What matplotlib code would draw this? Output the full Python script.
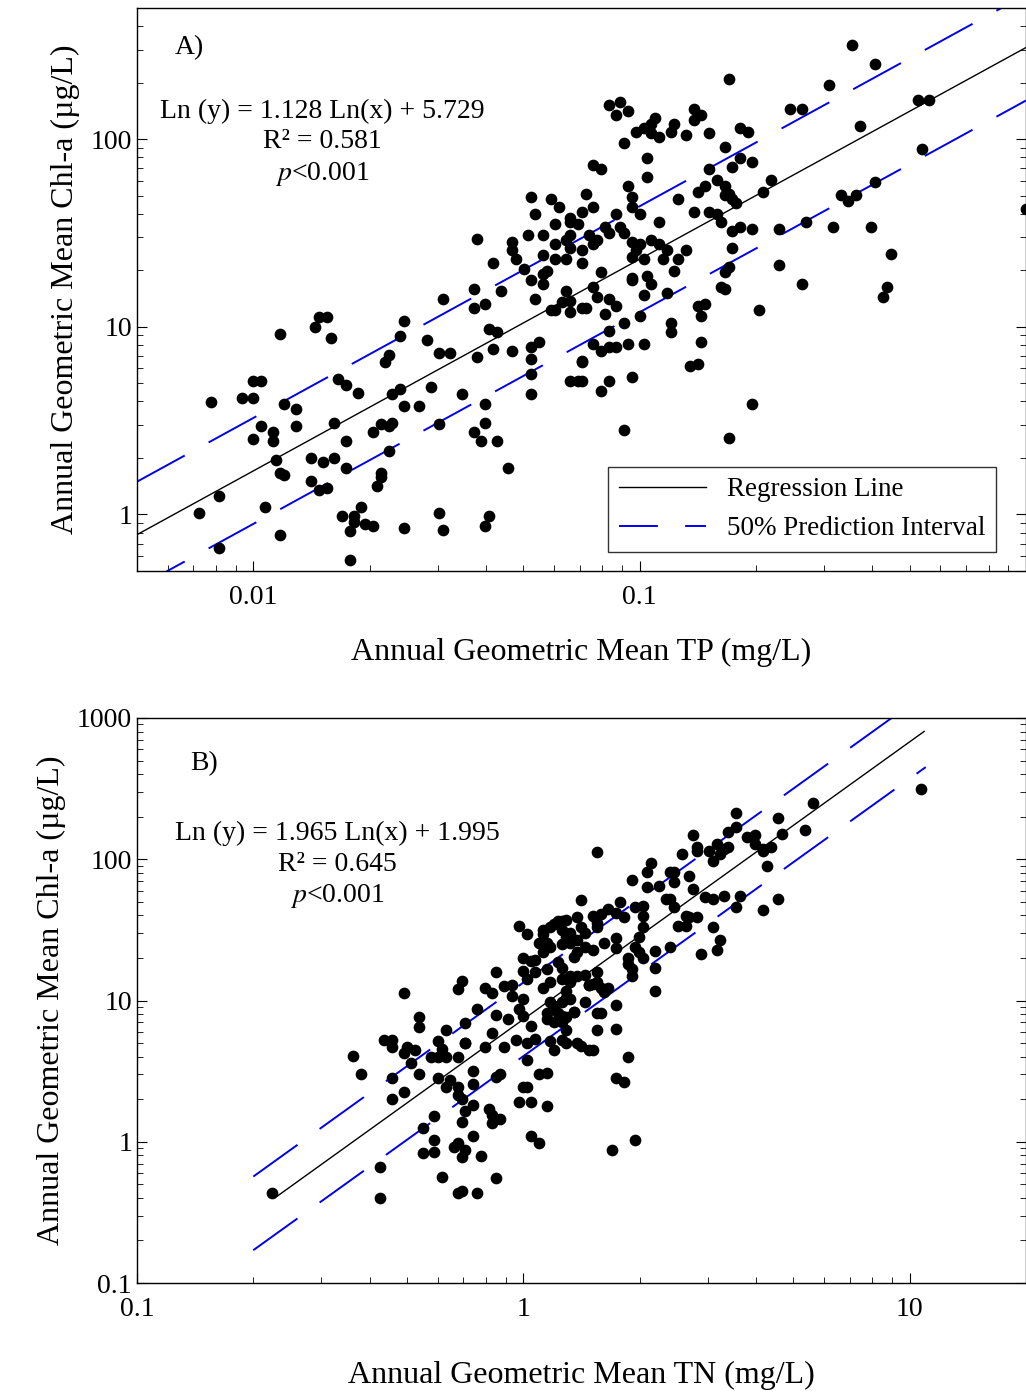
import numpy as np
import matplotlib
matplotlib.use("Agg")
import matplotlib.pyplot as plt
from matplotlib.lines import Line2D

plt.rcParams['font.family'] = ['Liberation Serif', 'DejaVu Serif']
plt.rcParams['mathtext.fontset'] = 'stix'

# Panel A: log10(TP mg/L), log10(Chl-a ug/L)
tp_log = [-2.14, -2.11, -2.09, -2.09, -2.03, -2.00, -2.00, -1.98, -1.98, -2.00, -1.95, -1.95, -1.94, -1.93,
          -1.92, -1.97, -1.93, -1.93, -1.92, -1.89, -1.89, -1.84, -1.83, -1.81, -1.80, -1.78, -1.76, -1.73,
          -1.79, -1.76, -1.85, -1.82, -1.79, -1.76, -1.85, -1.83, -1.81, -1.77, -1.74, -1.72, -1.74, -1.75,
          -1.71, -1.69, -1.75, -1.69, -1.67, -1.65, -1.64, -1.65, -1.67, -1.67, -1.68, -1.66, -1.65, -1.62,
          -1.61, -1.64, -1.62, -1.61, -1.57, -1.61, -1.55, -1.52, -1.49, -1.54, -1.51, -1.52, -1.52, -1.51,
          -1.46, -1.43, -1.43, -1.40, -1.42, -1.39, -1.37, -1.42, -1.38, -1.33, -1.40, -1.40, -1.43, -1.41,
          -1.37, -1.34, -1.40, -1.39, -1.38, -1.36, -1.33, -1.33, -1.32, -1.30, -1.28, -1.27, -1.25, -1.29,
          -1.25, -1.25, -1.22, -1.22, -1.28, -1.27, -1.23, -1.21, -1.22, -1.18, -1.18, -1.19, -1.18, -1.19,
          -1.18, -1.15, -1.16, -1.15, -1.14, -1.25, -1.24, -1.19, -1.20, -1.18, -1.23, -1.22, -1.18, -1.15,
          -1.14, -1.28, -1.28, -1.26, -1.28, -1.28, -1.18, -1.16, -1.15, -1.15, -1.15, -1.12, -1.13, -1.12,
          -1.11, -1.09, -1.08, -1.12, -1.10, -1.08, -1.05, -1.06, -1.03, -1.04, -1.01, -0.99, -0.97, -0.96,
          -0.97, -0.95, -0.92, -0.91, -0.98, -0.98, -1.03, -1.02, -1.02, -1.00, -1.06, -1.05, -1.04, -1.02,
          -1.00, -1.01, -1.02, -0.99, -0.97, -0.95, -0.93, -0.94, -0.95, -0.90, -0.88, -0.86, -0.86, -0.84,
          -0.82, -0.82, -0.85, -0.83, -0.86, -0.82, -0.80, -0.79, -0.80, -0.78, -0.78, -0.77, -0.76, -0.75,
          -0.78, -0.74, -0.72, -0.74, -0.76, -0.71, -0.77, -0.76, -0.74, -0.71, -0.76, -0.88, -0.90, -0.91,
          -0.93, -1.10, -1.12, -1.02, -1.02, -0.98, -0.97, -0.99, -1.11, -1.08, -1.06, -1.09, -1.04, -1.08,
          -1.00, -1.12, -1.10, -1.08, -1.06, -1.03, -0.99, -1.15, -1.08, -1.10, -1.02, -1.04, -0.92, -0.92,
          -0.85, -0.83, -0.84, -0.84, -0.87, -0.85, -0.79, -0.78, -0.78, -0.77, -0.69, -0.71, -0.77, -0.68,
          -0.66, -0.64, -0.64, -0.61, -0.58, -0.57, -0.58, -0.51, -0.45, -0.39, -0.43, -0.50, -0.48, -0.46,
          -0.44, -0.39, -0.40, -0.35, -0.36, -0.37, -0.28, -0.25, -0.27, 0.00]
chla_a_log = [0.01, 0.60, -0.18, 0.10, 0.62, 0.62, 0.71, 0.71, 0.47, 0.40, 0.44, 0.39, 0.29, 0.22,
              0.21, 0.04, -0.11, 0.96, 0.59, 0.56, 0.47, 1.00, 1.05, 1.05, 0.94, 0.72, 0.69, 0.65,
              0.49, 0.39, 0.30, 0.28, 0.30, 0.25, 0.18, 0.13, 0.14, -0.01, -0.01, 0.04, -0.04, -0.09,
              -0.05, -0.06, -0.24, 0.44, 0.48, 0.47, 0.49, 0.34, 0.22, 0.20, 0.15, 0.81, 0.85, 0.95,
              1.03, 0.64, 0.67, 0.58, 0.58, -0.07, 0.93, 0.86, 0.86, 0.68, 1.15, 0.48, 0.01, -0.08,
              0.64, 1.20, 1.10, 1.12, 1.47, 0.99, 0.97, 0.84, 0.88, 0.87, 0.59, 0.49, 0.44, 0.39,
              0.39, 0.25, -0.06, -0.01, 1.34, 1.19, 1.45, 1.41, 1.36, 1.31, 1.25, 1.15, 1.23, 1.49,
              1.49, 1.38, 1.36, 1.44, 1.69, 1.60, 1.68, 1.64, 1.55, 1.56, 1.58, 1.46, 1.49, 1.36,
              1.42, 1.41, 1.55, 1.61, 1.71, 1.28, 1.30, 1.19, 1.13, 1.14, 1.09, 1.09, 1.08, 1.10,
              1.10, 0.83, 0.89, 0.92, 0.75, 0.64, 0.71, 0.71, 0.71, 0.81, 1.34, 1.64, 1.49, 1.44,
              1.46, 1.53, 1.50, 1.86, 1.84, 2.18, 2.20, 2.13, 2.15, 1.98, 2.04, 2.06, 2.08, 2.11,
              2.03, 2.01, 2.04, 2.08, 1.90, 1.80, 1.75, 1.69, 1.64, 1.60, 1.60, 1.53, 1.50, 1.45,
              1.44, 1.41, 1.37, 1.36, 1.46, 1.44, 1.41, 1.36, 1.56, 1.68, 2.02, 2.10, 2.16, 2.13,
              2.03, 1.84, 1.72, 1.75, 1.61, 1.61, 1.60, 1.56, 1.78, 1.75, 1.70, 1.71, 1.68, 1.66,
              1.96, 2.06, 2.04, 1.90, 1.85, 1.88, 2.32, 1.51, 1.53, 1.52, 1.42, 1.41, 1.36, 1.30,
              1.18, 1.29, 1.21, 1.26, 1.25, 1.27, 1.23, 1.17, 1.16, 1.15, 1.11, 1.07, 1.02, 0.98,
              1.06, 0.91, 0.87, 0.89, 0.89, 0.91, 0.91, 0.82, 0.71, 0.66, 0.73, 0.45, 1.02, 0.97,
              1.11, 1.12, 1.06, 0.92, 0.79, 0.80, 1.21, 1.20, 1.29, 1.32, 1.09, 0.59, 0.41, 1.72,
              1.78, 1.52, 1.33, 2.16, 2.16, 1.56, 1.23, 2.29, 2.50, 2.40, 2.07, 1.53, 1.70, 1.67,
              1.70, 1.77, 1.53, 1.39, 1.21, 1.16, 2.21, 2.21, 1.95, 1.63]

# Panel B: log10(TN mg/L), log10(Chl-a ug/L)
tn_log = [-0.65, -0.44, -0.42, -0.37, -0.37, -0.36, -0.34, -0.34, -0.34, -0.34, -0.31, -0.31, -0.30, -0.31,
          -0.28, -0.29, -0.27, -0.27, -0.27, -0.26, -0.26, -0.23, -0.23, -0.23, -0.21, -0.24, -0.22, -0.22,
          -0.21, -0.20, -0.20, -0.22, -0.20, -0.19, -0.17, -0.17, -0.16, -0.17, -0.17, -0.16, -0.15, -0.15,
          -0.13, -0.13, -0.13, -0.15, -0.16, -0.13, -0.11, -0.18, -0.17, -0.15, -0.16, -0.17, -0.16, -0.12,
          -0.07, -0.10, -0.08, -0.12, -0.07, -0.08, -0.10, -0.15, -0.07, -0.09, -0.08, -0.06, -0.08, -0.05,
          -0.06, -0.07, -0.05, -0.03, -0.03, -0.04, -0.02, 0.00, -0.01, 0.00, -0.01, 0.01, 0.00, 0.02,
          0.00, 0.03, 0.01, 0.03, -0.01, 0.02, 0.00, 0.01, 0.01, 0.02, 0.03, 0.01, 0.06, 0.02, 0.04,
          0.04, 0.06, 0.05, 0.05, 0.07, 0.06, 0.04, 0.05, 0.07, 0.06, 0.07, 0.05, 0.07, 0.08, 0.06,
          0.06, 0.08, 0.09, 0.10, 0.11, 0.07, 0.08, 0.10, 0.11, 0.11, 0.10, 0.08, 0.09, 0.10, 0.11,
          0.10, 0.11, 0.12, 0.12, 0.10, 0.09, 0.10, 0.10, 0.12, 0.12, 0.11, 0.12, 0.13, 0.11, 0.10,
          0.14, 0.15, 0.14, 0.16, 0.16, 0.14, 0.13, 0.14, 0.16, 0.17, 0.17, 0.16, 0.14, 0.15, 0.17,
          0.18, 0.13, 0.15, 0.18, 0.19, 0.20, 0.22, 0.24, 0.18, 0.21, 0.19, 0.19, 0.19, 0.18, 0.19,
          0.20, 0.22, 0.21, 0.19, 0.19, 0.20, 0.24, 0.24, 0.24, 0.24, 0.25, 0.26, 0.24, 0.26, 0.27,
          0.23, 0.29, 0.27, 0.27, 0.28, 0.28, 0.29, 0.30, 0.31, 0.34, 0.34, 0.34, 0.30, 0.28, 0.29,
          0.31, 0.32, 0.33, 0.32, 0.31, 0.31, 0.35, 0.37, 0.38, 0.39, 0.39, 0.41, 0.43, 0.38, 0.39,
          0.38, 0.40, 0.42, 0.42, 0.43, 0.45, 0.44, 0.46, 0.44, 0.45, 0.45, 0.48, 0.49, 0.50, 0.51,
          0.52, 0.53, 0.55, 0.55, 0.53, 0.47, 0.49, 0.52, 0.49, 0.51, 0.50, 0.55, 0.56, 0.58, 0.60,
          0.60, 0.62, 0.64, 0.62, 0.63, 0.66, 0.62, 0.66, 0.67, 0.73, 0.75, 1.03]
chla_b_log = [-0.36, 0.61, 0.48, -0.18, -0.40, 0.72, 0.72, 0.67, 0.45, 0.30, 0.35, 1.05, 0.67, 0.63,
              0.65, 0.56, 0.48, 0.88, 0.81, -0.08, 0.10, 0.18, 0.01, -0.07, -0.25, 0.60, 0.60, 0.71,
              0.66, 0.60, 0.79, 0.45, 0.39, 0.44, 0.39, 0.33, 0.30, 0.60, 1.08, 1.14, 0.84, 0.70,
              0.50, 0.41, 0.26, 0.22, 0.14, 0.04, -0.10, -0.04, -0.01, -0.06, -0.11, -0.36, -0.35, -0.36,
              -0.26, 1.09, 1.05, 0.94, 0.90, 0.77, 0.67, 0.70, 1.20, 0.23, 0.19, 0.16, 0.13, 0.67,
              0.48, 0.46, 1.10, 1.11, 1.03, 0.87, 0.72, 1.01, 0.94, 0.89, 1.53, 1.47, 1.30, 1.28,
              1.21, 1.20, 1.15, 1.29, 0.28, 0.28, 0.39, 0.39, 0.70, 0.82, 0.73, 0.58, 0.25, 0.04, -0.01,
              0.48, 0.49, 1.47, 1.50, 1.52, 1.41, 1.41, 1.34, 1.38, 1.22, 1.13, 1.09, 0.99, 0.96,
              0.91, 0.87, 0.85, 0.91, 0.99, 1.02, 0.71, 0.65, 0.72, 0.70, 0.79, 0.89, 1.54, 1.56,
              1.56, 1.57, 1.50, 1.45, 1.48, 1.41, 1.40, 1.27, 1.23, 1.15, 1.17, 1.13, 1.07, 1.01,
              0.92, 0.88, 0.85, 1.59, 1.52, 1.43, 1.48, 1.38, 1.34, 1.31, 1.17, 1.18, 1.11, 1.11,
              0.99, 0.70, 0.68, 0.65, 0.65, 0.92, 1.71, 1.60, 1.55, 1.61, 1.65, 1.62, 1.36, 1.41,
              1.52, 2.05, 1.20, 1.12, 1.13, 1.09, 1.09, 1.06, 0.91, 0.79, 0.91, 0.97, 0.80, 1.37,
              1.44, 1.70, 1.59, 0.45, 0.42, 0.60, -0.06, 0.01, 1.30, 1.26, 1.22, 1.17, 1.38, 1.34,
              1.30, 1.35, 1.23, 1.07, 1.45, 1.85, 1.66, 1.67, 1.80, 1.97, 1.91, 1.60, 1.52, 1.81,
              1.72, 1.72, 1.66, 1.84, 2.04, 1.88, 1.91, 1.91, 1.38, 1.53, 1.53, 1.60, 1.59, 1.59,
              1.79, 1.33, 2.17, 2.09, 2.06, 2.06, 1.99, 2.11, 2.04, 2.07, 2.09, 2.33, 2.23, 2.19,
              1.73, 1.72, 1.74, 1.52, 1.43, 1.36, 1.66, 1.74, 2.16, 2.17, 2.11, 2.07, 2.09, 2.06,
              1.95, 1.72, 1.64, 2.29, 2.18, 2.21, 2.40, 2.50]

# regression results printed on the chart
slope_a, icpt_a, half_a = 1.128, 5.729, 0.65
slope_b, icpt_b, half_b = 1.965, 1.995, 0.60

blue = '#0000ee'
dash = (0, (28, 14))

fig = plt.figure(figsize=(10.26, 13.92), dpi=100)
ax1 = fig.add_axes([0.1335, 0.5898, 0.8665, 0.4045])
ax2 = fig.add_axes([0.1335, 0.0783, 0.8665, 0.4059])


def style(ax):
    ax.set_xscale('log')
    ax.set_yscale('log')
    ax.tick_params(which='both', direction='in', top=False, right=True, labelsize=20)
    ax.tick_params(which='major', length=7)
    ax.tick_params(which='minor', length=4)
    ax.tick_params(axis='x', pad=10)
    for s in ax.spines.values():
        s.set_linewidth(1)


# Panel A
x = 10 ** np.array(tp_log)
y = 10 ** np.array(chla_a_log)
ax1.scatter(x, y, s=55, color='black', zorder=3, clip_on=False)
xl = np.logspace(np.log10(0.005), 0, 100)
fit = np.exp(slope_a * np.log(xl) + icpt_a)
ax1.plot(xl, fit, color='black', lw=1)
ax1.plot(xl, fit * np.exp(half_a), color=blue, lw=1.4, linestyle=dash)
ax1.plot(xl, fit * np.exp(-half_a), color=blue, lw=1.4, linestyle=dash)
style(ax1)
ax1.set_xlim(0.005, 1)
ax1.set_ylim(0.5, 500)
ax1.set_xticks([0.01, 0.1])
ax1.set_xticklabels(['0.01', '0.1'])
ax1.set_yticks([1, 10, 100])
ax1.set_yticklabels(['1', '10', '100'])
ax1.set_xlabel('Annual Geometric Mean TP (mg/L)', fontsize=23, labelpad=20)
ax1.set_ylabel('Annual Geometric Mean Chl-a (µg/L)', fontsize=23, labelpad=8)
ax1.text(0.043, 0.929, 'A)', transform=ax1.transAxes, fontsize=20, va='center')
ax1.text(0.208, 0.817, 'Ln (y) = 1.128 Ln(x) + 5.729', transform=ax1.transAxes, fontsize=20, ha='center', va='center')
ax1.text(0.208, 0.762, 'R² = 0.581', transform=ax1.transAxes, fontsize=20, ha='center', va='center')
ax1.text(0.208, 0.705, r'$p$<0.001', transform=ax1.transAxes, fontsize=20, ha='center', va='center')
handles = [Line2D([], [], color='black', lw=1),
           Line2D([], [], color=blue, lw=1.4, linestyle=(0, (20, 14)))]
leg = ax1.legend(handles, ['Regression Line', '50% Prediction Interval'], loc='lower right',
                 bbox_to_anchor=(0.982, 0.01), fontsize=19.5, frameon=True, fancybox=False,
                 edgecolor='black', handlelength=3.2, borderpad=0.4, labelspacing=0.5)
leg.get_frame().set_linewidth(1)

# Panel B
x = 10 ** np.array(tn_log)
y = 10 ** np.array(chla_b_log)
ax2.scatter(x, y, s=55, color='black', zorder=3, clip_on=False)
xl = np.logspace(np.log10(0.23), np.log10(10.9), 100)
fit = np.exp(slope_b * np.log(xl) + icpt_b)
ax2.plot(xl, fit, color='black', lw=1)
xb = np.logspace(np.log10(0.2), np.log10(11), 100)
fb = np.exp(slope_b * np.log(xb) + icpt_b)
ax2.plot(xb, fb * np.exp(half_b), color=blue, lw=1.4, linestyle=dash)
ax2.plot(xb, fb * np.exp(-half_b), color=blue, lw=1.4, linestyle=dash)
style(ax2)
ax2.set_xlim(0.1, 20)
ax2.set_ylim(0.1, 1000)
ax2.set_xticks([0.1, 1, 10])
ax2.set_xticklabels(['0.1', '1', '10'])
ax2.set_yticks([0.1, 1, 10, 100, 1000])
ax2.set_yticklabels(['0.1', '1', '10', '100', '1000'])
ax2.set_xlabel('Annual Geometric Mean TN (mg/L)', fontsize=23, labelpad=28)
ax2.set_ylabel('Annual Geometric Mean Chl-a (µg/L)', fontsize=23, labelpad=8)
ax2.text(0.06, 0.92, 'B)', transform=ax2.transAxes, fontsize=20, va='center')
ax2.text(0.225, 0.795, 'Ln (y) = 1.965 Ln(x) + 1.995', transform=ax2.transAxes, fontsize=20, ha='center', va='center')
ax2.text(0.225, 0.740, 'R² = 0.645', transform=ax2.transAxes, fontsize=20, ha='center', va='center')
ax2.text(0.225, 0.685, r'$p$<0.001', transform=ax2.transAxes, fontsize=20, ha='center', va='center')

fig.savefig('out.png', dpi=100)
